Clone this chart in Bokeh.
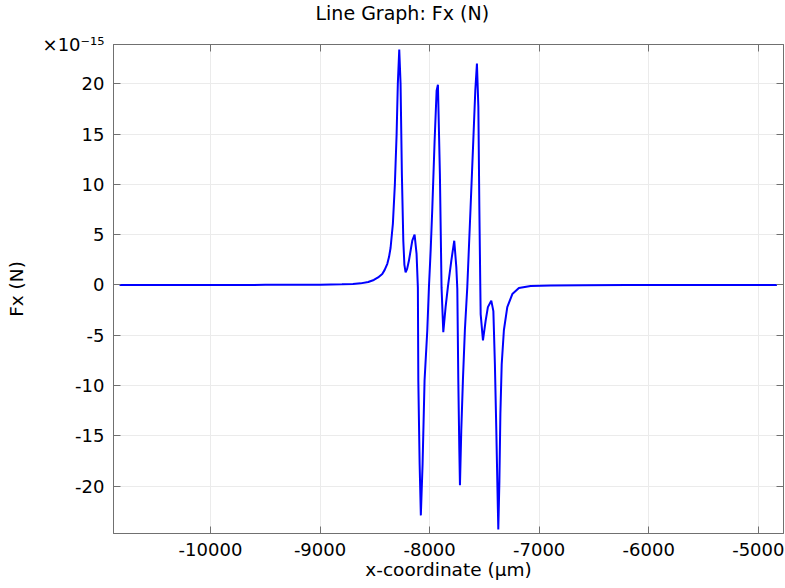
from bokeh.plotting import figure
from bokeh.models import Range1d, LinearAxis, FixedTicker
from bokeh.embed import file_html
from bokeh.resources import INLINE

# x-coordinate (um)
x_um = [-10830, -10000, -9500, -9000, -8800, -8700, -8630, -8560, -8509, -8470,
        -8432, -8410, -8386, -8370, -8356, -8335, -8317, -8301, -8290, -8277,
        -8265, -8253, -8240, -8230, -8219, -8205, -8189, -8172, -8158, -8137,
        -8119, -8107, -8103, -8091, -8080, -8064, -8046, -8021, -8006, -7990,
        -7975, -7954, -7936, -7924, -7906, -7891, -7875, -7854, -7833, -7802,
        -7775, -7756, -7747, -7738, -7729, -7723, -7711, -7696, -7678, -7656,
        -7626, -7601, -7583, -7568, -7555, -7546, -7537, -7534, -7513, -7489,
        -7468, -7437, -7418, -7404, -7391, -7382, -7373, -7363, -7354, -7342,
        -7322, -7291, -7245, -7185, -7078, -6895, -6600, -6200, -5500, -4830]
# Fx in units of 1e-15 N
fx_e15 = [0.0, 0.0, 0.01, 0.03, 0.06, 0.1, 0.16, 0.3, 0.5, 0.75,
          1.1, 1.5, 2.1, 2.8, 3.7, 6.1, 10.0, 15.0, 20.0, 23.4,
          20.0, 11.0, 4.4, 2.0, 1.25, 1.6, 2.4, 3.5, 4.4, 5.0,
          3.1, -0.24, -9.5, -17.8, -22.9, -17.8, -9.5, -4.5, -0.2, 3.5,
          7.7, 14.4, 19.3, 19.9, 11.0, -0.24, -4.7, -2.2, -0.2, 2.4,
          4.4, 1.75, -0.4, -9.5, -16.2, -19.9, -14.5, -9.5, -4.5, -0.2,
          7.7, 14.4, 19.3, 22.0, 17.7, 7.7, -0.4, -2.9, -5.5, -3.6,
          -2.2, -1.56, -2.6, -7.9, -14.5, -19.5, -24.3, -19.5, -12.8, -7.9,
          -4.5, -2.2, -0.9, -0.3, -0.1, -0.05, -0.02, -0.01, 0.0, 0.0]

x_ticks = [-10000, -9000, -8000, -7000, -6000, -5000]
y_ticks = [-20, -15, -10, -5, 0, 5, 10, 15, 20]
title_text = "Line Graph: Fx (N)"
x_label = "x-coordinate (µm)"
y_label = "Fx (N)"
scale_text = "×10⁻¹⁵"

FONT = "DejaVu Sans"
AX = "#707070"

X0, X1 = -10885, -4770
Y0, Y1 = -24.7, 23.9

p = figure(width=785, height=588, output_backend="svg", toolbar_location=None,
           x_range=Range1d(X0, X1), y_range=Range1d(Y0, Y1),
           min_border_left=113, min_border_right=2, min_border_top=44,
           min_border_bottom=55)

# trailing line break lifts the single visible title line away from the frame
p.title.text = title_text + "\n"
p.title.align = "left"
p.title.offset = 202
p.title.standoff = 0
p.title.text_font = FONT
p.title.text_font_size = "19px"
p.title.text_line_height = 0.92
p.title.text_font_style = "normal"
p.title.text_color = "#000000"

p.outline_line_color = AX
p.background_fill_color = "white"
p.border_fill_color = "white"

p.line(x_um, fx_e15, line_color="#0000ff", line_width=2)

def style(ax, ticks, labels=None):
    ax.ticker = FixedTicker(ticks=ticks)
    ax.axis_line_color = AX
    ax.major_tick_line_color = AX
    ax.major_tick_in = 7
    ax.major_tick_out = 0
    ax.minor_tick_in = 0
    ax.minor_tick_out = 0
    ax.major_label_text_font = FONT
    ax.major_label_text_color = "#000000"
    ax.axis_label_text_font = FONT
    ax.axis_label_text_font_style = "normal"
    ax.axis_label_text_color = "#000000"
    ax.axis_label_text_font_size = "18.5px"
    if labels is not None:
        ax.major_label_overrides = labels
        ax.major_label_text_font_size = "18px"
        ax.major_label_standoff = 9
        ax.axis_label_standoff = 0
    else:
        ax.major_label_overrides = {t: "" for t in ticks}
        ax.major_label_text_font_size = "1px"
        ax.major_label_standoff = 0

style(p.xaxis[0], x_ticks, {t: str(t) for t in x_ticks})
ylabels = {t: str(t) for t in y_ticks}
ylabels[Y1] = scale_text
style(p.yaxis[0], y_ticks + [Y1], ylabels)
p.xaxis[0].axis_label = x_label
p.yaxis[0].axis_label = y_label
p.yaxis[0].axis_label_standoff = 13

top = LinearAxis()
style(top, x_ticks)
p.add_layout(top, "above")
right = LinearAxis()
style(right, y_ticks)
p.add_layout(right, "right")

p.xgrid.ticker = FixedTicker(ticks=x_ticks)
p.ygrid.ticker = FixedTicker(ticks=y_ticks)
p.xgrid.grid_line_color = "#ebebeb"
p.ygrid.grid_line_color = "#ebebeb"

open("out.html", "w").write(file_html(p, INLINE))
